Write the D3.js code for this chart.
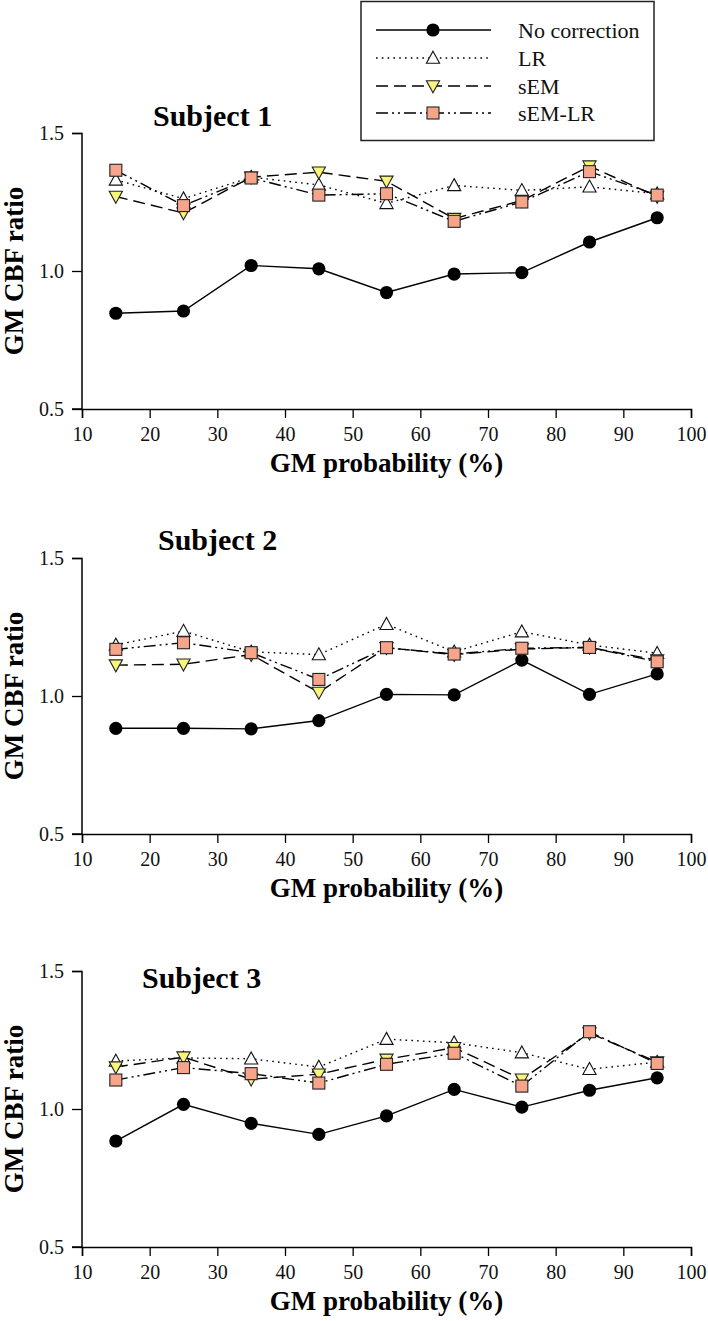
<!DOCTYPE html>
<html><head><meta charset="utf-8">
<script src="https://cdn.jsdelivr.net/npm/d3@7"></script>
<style>body{margin:0;background:#fff} svg{display:block} text{font-family:"Liberation Serif","Times New Roman",serif;}</style>
</head><body><svg id="c" width="708" height="1321"></svg>
<script>
// ---- data ----
const probs = [15, 25, 35, 45, 55, 65, 75, 85, 95];
const seriesNames = ["No correction", "LR", "sEM", "sEM-LR"];
const subjects = ["Subject 1", "Subject 2", "Subject 3"];
const xTicks = [10, 20, 30, 40, 50, 60, 70, 80, 90, 100];
const yTicks = [0.5, 1.0, 1.5];

const s1None  = [0.847, 0.855, 1.020, 1.008, 0.922, 0.989, 0.994, 1.105, 1.193];
const s1LR    = [1.330, 1.262, 1.340, 1.312, 1.245, 1.310, 1.292, 1.305, 1.280];
const s1sEM   = [1.270, 1.210, 1.340, 1.358, 1.325, 1.190, 1.255, 1.380, 1.270];
const s1sEMLR = [1.365, 1.237, 1.337, 1.275, 1.280, 1.180, 1.250, 1.360, 1.275];

const s2None  = [0.883, 0.883, 0.881, 0.911, 1.006, 1.004, 1.130, 1.006, 1.080];
const s2LR    = [1.185, 1.235, 1.160, 1.150, 1.260, 1.160, 1.233, 1.185, 1.155];
const s2sEM   = [1.112, 1.115, 1.150, 1.013, 1.175, 1.150, 1.170, 1.176, 1.130];
const s2sEMLR = [1.169, 1.193, 1.157, 1.060, 1.175, 1.152, 1.173, 1.176, 1.124];

const s3None  = [0.884, 1.017, 0.948, 0.908, 0.975, 1.071, 1.007, 1.068, 1.113];
const s3LR    = [1.174, 1.185, 1.182, 1.152, 1.253, 1.240, 1.204, 1.144, 1.170];
const s3sEM   = [1.152, 1.188, 1.108, 1.126, 1.180, 1.222, 1.108, 1.275, 1.170];
const s3sEMLR = [1.105, 1.150, 1.128, 1.094, 1.162, 1.202, 1.083, 1.280, 1.165];

const subjectData = [
  [s1None, s1LR, s1sEM, s1sEMLR],
  [s2None, s2LR, s2sEM, s2sEMLR],
  [s3None, s3LR, s3sEM, s3sEMLR]
];

// ---- layout & style ----
const FONT = '"Liberation Serif","Times New Roman",serif';
const panelTops = [133, 558, 971];
const panelH = 276;
const titlePos = [[153, 126], [158, 550], [142, 988]];
const x = d3.scaleLinear().domain([10, 100]).range([82, 691]);

const styles = [
  {dash: null, marker: "circle", fill: "#000"},
  {dash: "1.6,4.2", marker: "up", fill: "#fff"},
  {dash: "12,6", marker: "down", fill: "#F7F57A"},
  {dash: "12,4,2,4,2,4", marker: "square", fill: "#F6A58A"}
];

const svg = d3.select("#c");

function drawMarker(g, type, cx, cy, fill) {
  if (type === "circle") {
    g.append("circle").attr("cx", cx).attr("cy", cy).attr("r", 6.6).attr("fill", "#000");
  } else if (type === "square") {
    g.append("rect").attr("x", cx - 6).attr("y", cy - 6).attr("width", 12).attr("height", 12)
      .attr("fill", fill).attr("stroke", "#222").attr("stroke-width", 1.1);
  } else if (type === "up") {
    g.append("path").attr("d", `M${cx},${cy - 6.8}L${cx + 6.6},${cy + 5.2}L${cx - 6.6},${cy + 5.2}Z`)
      .attr("fill", fill).attr("stroke", "#111").attr("stroke-width", 1.1);
  } else {
    g.append("path").attr("d", `M${cx},${cy + 6.8}L${cx + 6.6},${cy - 5.2}L${cx - 6.6},${cy - 5.2}Z`)
      .attr("fill", fill).attr("stroke", "#222").attr("stroke-width", 1.1);
  }
}

subjects.forEach((name, pi) => {
  const top = panelTops[pi];
  const y = d3.scaleLinear().domain([0.5, 1.5]).range([top + panelH, top]);
  const g = svg.append("g");

  // axes
  const yAxis = d3.axisLeft(y).tickValues(yTicks).tickSize(10).tickPadding(8).tickFormat(d3.format(".1f"));
  const ga = g.append("g").attr("transform", `translate(${x(10)},0)`).call(yAxis);
  const xAxis = d3.axisBottom(x).tickValues(xTicks).tickSize(9).tickPadding(9).tickFormat(d3.format("d"));
  const gx = g.append("g").attr("transform", `translate(0,${top + panelH})`).call(xAxis);
  [ga, gx].forEach(a => {
    a.select(".domain").attr("stroke", "#000").attr("stroke-width", 1.5);
    a.selectAll(".tick line").attr("stroke", "#000").attr("stroke-width", 1.3);
    a.selectAll(".tick text").attr("font-family", FONT).attr("font-size", 20).attr("fill", "#111");
  });
  ga.select(".domain").attr("d", `M-10,${top + 0.5}H0V${top + panelH}H-10`);

  // lines
  const line = d3.line().x((d, i) => x(probs[i])).y(d => y(d));
  subjectData[pi].forEach((vals, si) => {
    g.append("path").attr("d", line(vals)).attr("fill", "none").attr("stroke", "#000")
      .attr("stroke-width", 1.4).attr("stroke-dasharray", styles[si].dash);
  });
  // markers
  subjectData[pi].forEach((vals, si) => {
    vals.forEach((v, i) => drawMarker(g, styles[si].marker, x(probs[i]), y(v), styles[si].fill));
  });

  // titles
  g.append("text").attr("x", titlePos[pi][0]).attr("y", titlePos[pi][1])
    .attr("font-size", 30).attr("font-weight", "bold").attr("fill", "#000").text(name);
  g.append("text").attr("x", (x(10) + x(100)) / 2).attr("y", top + panelH + 63)
    .attr("text-anchor", "middle").attr("font-size", 27).attr("font-weight", "bold").attr("fill", "#000")
    .text("GM probability (%)");
  g.append("text").attr("transform", `translate(23,${top + panelH / 2}) rotate(-90)`)
    .attr("text-anchor", "middle").attr("font-size", 27).attr("font-weight", "bold").attr("fill", "#000")
    .text("GM CBF ratio");
});

// legend
const lg = svg.append("g");
lg.append("rect").attr("x", 361).attr("y", 1.5).attr("width", 293).attr("height", 139)
  .attr("fill", "#fff").attr("stroke", "#222").attr("stroke-width", 1.5);
const legY = [30, 58, 86, 113];
seriesNames.forEach((n, i) => {
  lg.append("line").attr("x1", 376).attr("x2", 491).attr("y1", legY[i]).attr("y2", legY[i])
    .attr("stroke", "#000").attr("stroke-width", 1.4).attr("stroke-dasharray", styles[i].dash);
  drawMarker(lg, styles[i].marker, 433, legY[i], styles[i].fill);
  lg.append("text").attr("x", 518).attr("y", legY[i]).attr("dy", "0.35em")
    .attr("font-size", 22).attr("fill", "#111").text(n);
});
</script></body></html>
